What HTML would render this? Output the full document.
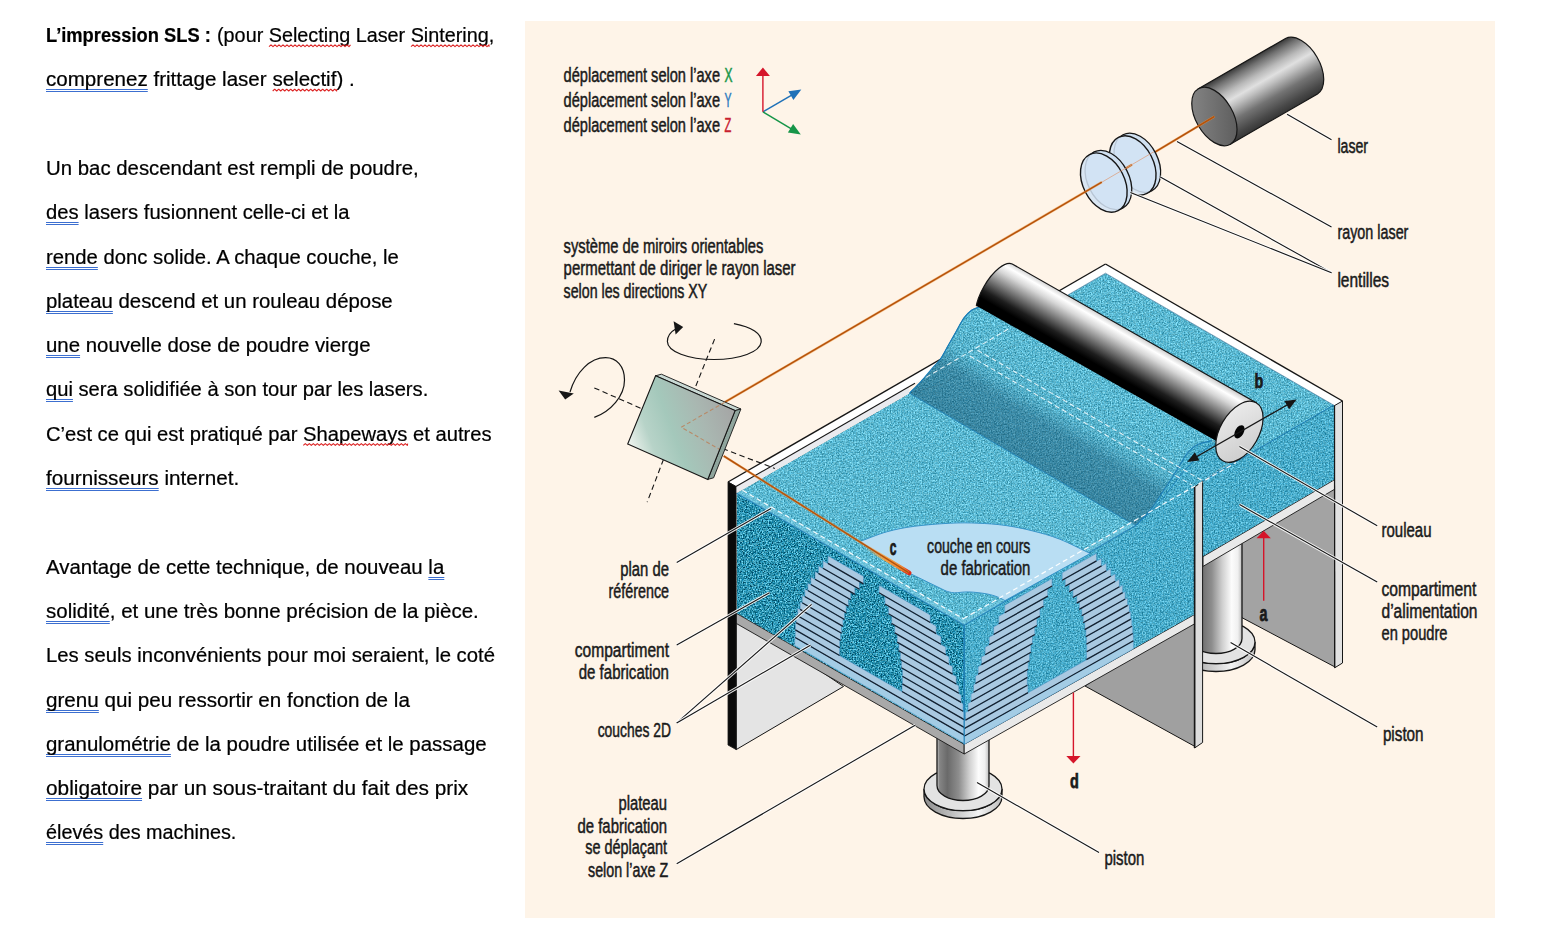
<!DOCTYPE html>
<html lang="fr"><head><meta charset="utf-8"><title>L'impression SLS</title>
<style>
html,body{margin:0;padding:0;background:#fff;}
body{width:1545px;height:925px;overflow:hidden;position:relative;font-family:"Liberation Sans",sans-serif;}
.t{position:absolute;left:46px;white-space:nowrap;font-size:19.6px;line-height:24px;color:#000;transform-origin:0 50%;-webkit-text-stroke:0.22px #000;}
.t b{font-weight:bold;display:inline-block;transform:scaleX(0.925);transform-origin:0 50%;margin-right:-12.5px;}
.g{text-decoration:underline double #3c6fd0;text-decoration-thickness:1px;text-underline-offset:3px;text-decoration-skip-ink:none;}
.s{}
svg{position:absolute;left:0;top:0;}
svg text{font-family:"Liberation Sans",sans-serif;}
</style></head><body>
<div class="t" id="L0" style="left:46.3px;top:23px;transform:scaleX(1.0100);"><b>L’impression SLS :</b> (pour <span class=s>Selecting</span> Laser <span class=s>Sintering</span>,</div>
<div class="t" id="L1" style="left:46.3px;top:67.3px;transform:scaleX(1.0498);"><span class=g>comprenez</span> frittage laser <span class=s>selectif</span>) .</div>
<div class="t" id="L3" style="left:46.3px;top:155.9px;transform:scaleX(1.0400);">Un bac descendant est rempli de poudre,</div>
<div class="t" id="L4" style="left:46.3px;top:200.2px;transform:scaleX(1.0318);"><span class=g>des</span> lasers fusionnent celle-ci et la</div>
<div class="t" id="L5" style="left:46.3px;top:244.5px;transform:scaleX(1.0344);"><span class=g>rende</span> donc solide. A chaque couche, le</div>
<div class="t" id="L6" style="left:46.3px;top:288.8px;transform:scaleX(1.0399);"><span class=g>plateau</span> descend et un rouleau dépose</div>
<div class="t" id="L7" style="left:46.3px;top:333.1px;transform:scaleX(1.0415);"><span class=g>une</span> nouvelle dose de poudre vierge</div>
<div class="t" id="L8" style="left:46.3px;top:377.4px;transform:scaleX(1.0293);"><span class=g>qui</span> sera solidifiée à son tour par les lasers.</div>
<div class="t" id="L9" style="left:46.3px;top:421.7px;transform:scaleX(1.0305);">C’est ce qui est pratiqué par <span class=s>Shapeways</span> et autres</div>
<div class="t" id="L10" style="left:46.3px;top:466px;transform:scaleX(1.0558);"><span class=g>fournisseurs</span> internet.</div>
<div class="t" id="L12" style="left:46.3px;top:554.6px;transform:scaleX(1.0425);">Avantage de cette technique, de nouveau <span class=g>la</span></div>
<div class="t" id="L13" style="left:46.3px;top:598.9px;transform:scaleX(1.0456);"><span class=g>solidité</span>, et une très bonne précision de la pièce.</div>
<div class="t" id="L14" style="left:46.3px;top:643.2px;transform:scaleX(1.0356);">Les seuls inconvénients pour moi seraient, le coté</div>
<div class="t" id="L15" style="left:46.3px;top:687.5px;transform:scaleX(1.0539);"><span class=g>grenu</span> qui peu ressortir en fonction de la</div>
<div class="t" id="L16" style="left:46.3px;top:731.8px;transform:scaleX(1.0425);"><span class=g>granulométrie</span> de la poudre utilisée et le passage</div>
<div class="t" id="L17" style="left:46.3px;top:776.1px;transform:scaleX(1.0620);"><span class=g>obligatoire</span> par un sous-traitant du fait des prix</div>
<div class="t" id="L18" style="left:46.3px;top:820.4px;transform:scaleX(1.0100);"><span class=g>élevés</span> des machines.</div>
<svg width="1545" height="925" viewBox="0 0 1545 925">
<defs>
<filter id="pw" x="0" y="0" width="100%" height="100%" filterUnits="objectBoundingBox" color-interpolation-filters="sRGB">
  <feTurbulence type="fractalNoise" baseFrequency="0.71 0.67" numOctaves="2" seed="11" result="t"/>
  <feColorMatrix in="t" type="matrix" values="1.5 0.9 0 0 -0.7  1.2 1.2 0 0 -0.7  1.0 1.4 0 0 -0.7  0 0 0 0 1" result="n"/>
  <feComposite in="SourceGraphic" in2="n" operator="arithmetic" k1="0" k2="1" k3="0.38" k4="-0.18" result="s"/>
  <feComposite in="s" in2="SourceGraphic" operator="in"/>
</filter>
<filter id="pwd" x="0" y="0" width="100%" height="100%" filterUnits="objectBoundingBox" color-interpolation-filters="sRGB">
  <feTurbulence type="fractalNoise" baseFrequency="0.69 0.73" numOctaves="2" seed="5" result="t"/>
  <feColorMatrix in="t" type="matrix" values="1.7 1.1 0 0 -0.9  1.4 1.4 0 0 -0.9  1.2 1.6 0 0 -0.9  0 0 0 0 1" result="n"/>
  <feComposite in="SourceGraphic" in2="n" operator="arithmetic" k1="0" k2="1" k3="0.6" k4="-0.31" result="s"/>
  <feComposite in="s" in2="SourceGraphic" operator="in"/>
</filter>
<linearGradient id="gRoll" gradientUnits="userSpaceOnUse" x1="1017" y1="256" x2="983" y2="315">
  <stop offset="0" stop-color="#4a4a4a"/><stop offset="0.05" stop-color="#7c7c7c"/><stop offset="0.13" stop-color="#d2d2d2"/><stop offset="0.21" stop-color="#ffffff"/>
  <stop offset="0.32" stop-color="#d6d6d6"/><stop offset="0.5" stop-color="#7a7a7a"/><stop offset="0.68" stop-color="#1e1e1e"/><stop offset="0.8" stop-color="#000"/><stop offset="1" stop-color="#000"/>
</linearGradient>
<linearGradient id="gRollFace" x1="0" y1="0" x2="1" y2="1">
  <stop offset="0" stop-color="#efefef"/><stop offset="1" stop-color="#c9c9c9"/>
</linearGradient>
<linearGradient id="gLaser" gradientUnits="userSpaceOnUse" x1="1198.4" y1="88.8" x2="1230.4" y2="144.2">
  <stop offset="0" stop-color="#3a3a3a"/><stop offset="0.1" stop-color="#707070"/><stop offset="0.27" stop-color="#b9b9b9"/>
  <stop offset="0.4" stop-color="#e0e0e0"/><stop offset="0.5" stop-color="#bfbfbf"/><stop offset="0.7" stop-color="#737373"/><stop offset="0.9" stop-color="#484848"/><stop offset="1" stop-color="#363636"/>
</linearGradient>
<linearGradient id="gLaserFace" x1="0" y1="0" x2="1" y2="1">
  <stop offset="0" stop-color="#8a8a8a"/><stop offset="1" stop-color="#575757"/>
</linearGradient>
<linearGradient id="gPist" x1="0" y1="0" x2="1" y2="0">
  <stop offset="0" stop-color="#c8c8c8"/><stop offset="0.05" stop-color="#858585"/><stop offset="0.2" stop-color="#6a6a6a"/>
  <stop offset="0.42" stop-color="#8e8e8e"/><stop offset="0.62" stop-color="#cfcfcf"/><stop offset="0.8" stop-color="#fcfcfc"/><stop offset="0.92" stop-color="#f0f0f0"/><stop offset="1" stop-color="#bdbdbd"/>
</linearGradient>
<linearGradient id="gFl" x1="0" y1="0" x2="1" y2="0">
  <stop offset="0" stop-color="#8d8d8d"/><stop offset="0.35" stop-color="#bdbdbd"/><stop offset="0.7" stop-color="#f4f4f4"/><stop offset="1" stop-color="#bdbdbd"/>
</linearGradient>
<linearGradient id="gMir" gradientUnits="userSpaceOnUse" x1="632" y1="446" x2="733" y2="408">
  <stop offset="0" stop-color="#e9f0ea"/><stop offset="0.18" stop-color="#b7d3c8"/><stop offset="0.4" stop-color="#a4c8bb"/>
  <stop offset="0.7" stop-color="#a9b7b1"/><stop offset="1" stop-color="#a5a5a5"/>
</linearGradient>
<linearGradient id="gWave" gradientUnits="userSpaceOnUse" x1="909.5" y1="393.3" x2="958" y2="312">
  <stop offset="0" stop-color="#0a3f5e" stop-opacity="0.42"/><stop offset="0.45" stop-color="#0a3f5e" stop-opacity="0.36"/>
  <stop offset="0.65" stop-color="#0c4566" stop-opacity="0.06"/><stop offset="1" stop-color="#0c4566" stop-opacity="0"/>
</linearGradient>
<linearGradient id="gSpot" gradientUnits="userSpaceOnUse" x1="866" y1="546.8" x2="909.2" y2="573">
  <stop offset="0" stop-color="#f6a94e" stop-opacity="0"/><stop offset="0.45" stop-color="#f6a23e" stop-opacity="0.95"/><stop offset="0.82" stop-color="#f07a28"/><stop offset="0.93" stop-color="#e23a1c"/><stop offset="1" stop-color="#de2c1a"/>
</linearGradient>
</defs>
<rect x="525" y="21" width="970" height="897" fill="#fef4e8"/>
<polygon points="736.2,614 843.5,686.5 736.2,749.6" fill="#e4e4e4" stroke="#161616" stroke-width="1" />
<polygon points="1236,543 1335,486 1335,667 1236,614.5" fill="#a3a3a3" stroke="#161616" stroke-width="1" />
<path d="M1177,642 L1177,649.8 A39,21.7 0 0 0 1255,649.8 L1255,642 A39,21.7 0 0 1 1177,642 Z" fill="url(#gFl)" stroke="#161616" stroke-width="1.3"/>
<ellipse cx="1216" cy="642" rx="39" ry="21.7" fill="#e3e3e3" stroke="#161616" stroke-width="1.3"/>
<path d="M1190,540 L1190,638.5 A26,15 0 0 0 1242,638.5 L1242,540 Z" fill="url(#gPist)" stroke="#161616" stroke-width="1.3"/>
<polygon points="1195,612 1195,746.5 1085,686" fill="#a0a0a0" stroke="#161616" stroke-width="1" />
<path d="M924,789 L924,796.8 A39,21.7 0 0 0 1002,796.8 L1002,789 A39,21.7 0 0 1 924,789 Z" fill="url(#gFl)" stroke="#161616" stroke-width="1.3"/>
<ellipse cx="963" cy="789" rx="39" ry="21.7" fill="#e3e3e3" stroke="#161616" stroke-width="1.3"/>
<path d="M937,730 L937,785.5 A26,15 0 0 0 989,785.5 L989,730 Z" fill="url(#gPist)" stroke="#161616" stroke-width="1.3"/>
<polygon points="736.2,613.2 964.2,744.3 964.2,754 736.2,623.4" fill="#a9a9a9" stroke="#161616" stroke-width="0.9" />
<polygon points="964.2,744.3 1195,614.2 1195,623.6 964.2,754" fill="#e9e9e9" stroke="#161616" stroke-width="0.9" />
<polygon points="1203,556.6 1334.7,479.6 1334.7,489.2 1203,566.4" fill="#e9e9e9" stroke="#161616" stroke-width="0.9" />
<g filter="url(#pwd)">
<polygon points="736.5,493 964.2,625 964.2,744.3 736.5,613.2" fill="#2e94b1" stroke="none" stroke-width="1" />
</g>
<g filter="url(#pw)">
<path d="M964.2,625 L1135.4,525.6 C1136.7,524.3 1140.2,521 1143,518 C1145.8,515 1149,511.9 1152.3,507.5 C1155.6,503.1 1159.2,497.1 1162.7,491.9 C1166.2,486.7 1170,481.1 1173,476.3 C1176,471.6 1178.2,467.5 1180.8,463.4 C1183.4,459.3 1185.8,454.8 1188.6,451.7 C1191.4,448.6 1193.8,446.4 1197.7,444.5 C1201.6,442.6 1209.6,441.2 1212,440.6 L1240,455 L1203,481 L1203,560 L1195,614.2 L964.2,744.3 Z" fill="#47a9c7"/>
<polygon points="1202.4,481.3 1334.5,404.6 1334.5,479.6 1202.4,556.8" fill="#47a9c7" stroke="none" stroke-width="1" />
</g>
<g filter="url(#pw)">
<path d="M736.5,493 L909.5,393.3 C911.4,391.3 917.2,385.8 921.1,381.5 C925,377.2 929.5,371.5 932.8,367.7 C936,363.9 938,362.6 940.6,358.9 C943.2,355.2 945.8,349.8 948.4,345.3 C951,340.8 953.5,336.2 956.1,331.7 C958.7,327.2 961.3,321.7 963.9,318.1 C966.5,314.5 969.1,312.2 971.7,310.3 C974.3,308.4 978.2,307.6 979.5,307 L1000,298 L1063,297.8 L1105.5,273.2 L1334.5,405.6 L1202.4,481.3 L1240,455 L1212,440.6 C1209.6,441.2 1201.6,442.6 1197.7,444.5 C1193.8,446.4 1191.4,448.6 1188.6,451.7 C1185.8,454.8 1183.4,459.3 1180.8,463.4 C1178.2,467.5 1176,471.6 1173,476.3 C1170,481.1 1166.2,486.7 1162.7,491.9 C1159.2,497.1 1155.6,503.1 1152.3,507.5 C1149,511.9 1145.8,515 1143,518 C1140.2,521 1136.7,524.3 1135.4,525.6 L964.2,625 Z" fill="#58b5ce"/>
</g>
<path d="M909.5,393.3 C911.4,391.3 917.2,385.8 921.1,381.5 C925,377.2 929.5,371.5 932.8,367.7 C936,363.9 938,362.6 940.6,358.9 C943.2,355.2 945.8,349.8 948.4,345.3 C951,340.8 953.5,336.2 956.1,331.7 C958.7,327.2 961.3,321.7 963.9,318.1 C966.5,314.5 969.1,312.2 971.7,310.3 C974.3,308.4 978.2,307.6 979.5,307 L1212,440.6 C1209.6,441.2 1201.6,442.6 1197.7,444.5 C1193.8,446.4 1191.4,448.6 1188.6,451.7 C1185.8,454.8 1183.4,459.3 1180.8,463.4 C1178.2,467.5 1176,471.6 1173,476.3 C1170,481.1 1166.2,486.7 1162.7,491.9 C1159.2,497.1 1155.6,503.1 1152.3,507.5 C1149,511.9 1145.8,515 1143,518 C1140.2,521 1136.7,524.3 1135.4,525.6 Z" fill="url(#gWave)"/>
<path d="M979.5,307 C978.2,307.6 974.3,308.4 971.7,310.3 C969.1,312.2 966.5,314.5 963.9,318.1 C961.3,321.7 958.7,327.2 956.1,331.7 C953.5,336.2 951,340.8 948.4,345.3 C945.8,349.8 943.2,355.2 940.6,358.9 C938,362.6 936,363.9 932.8,367.7 C929.5,371.5 925,377.2 921.1,381.5 C917.2,385.8 911.4,391.3 909.5,393.3" fill="none" stroke="#1b7fb8" stroke-width="1.1"/>
<path d="M1135.4,525.6 C1136.7,524.3 1140.2,521 1143,518 C1145.8,515 1149,511.9 1152.3,507.5 C1155.6,503.1 1159.2,497.1 1162.7,491.9 C1166.2,486.7 1170,481.1 1173,476.3 C1176,471.6 1178.2,467.5 1180.8,463.4 C1183.4,459.3 1185.8,454.8 1188.6,451.7 C1191.4,448.6 1193.8,446.4 1197.7,444.5 C1201.6,442.6 1209.6,441.2 1212,440.6" fill="none" stroke="#1b7fb8" stroke-width="1.1"/>
<path d="M1135.4,525.6 C1138.7,522.6 1149.5,513.1 1154.9,507.5 C1160.3,501.9 1163.6,497.3 1167.9,491.9 C1172.2,486.5 1176.9,479.8 1180.8,475 C1184.7,470.2 1188,467.1 1191.2,463.4 C1194.5,459.7 1196.6,456.2 1200.3,453 C1204,449.8 1211.1,445.4 1213.3,443.9" fill="none" stroke="#1b7fb8" stroke-width="0.9"/>
<line x1="909.5" y1="393.3" x2="1135.4" y2="525.6" stroke="#1b7fb8" stroke-width="1.0" opacity="0.8"/>
<line x1="736.5" y1="493" x2="964.2" y2="625" stroke="#1b7fb8" stroke-width="1.2" />
<line x1="964.2" y1="625" x2="1135.4" y2="525.6" stroke="#1b7fb8" stroke-width="1.2" />
<line x1="964.2" y1="625" x2="964.2" y2="744.3" stroke="#1b7fb8" stroke-width="1.0" />
<line x1="1202.4" y1="481.3" x2="1334.5" y2="404.6" stroke="#1b7fb8" stroke-width="1.0" />
<polygon points="736.5,493 964.2,625 964.2,618.5 742,490.2" fill="#8fd3ea" stroke="none" stroke-width="0" opacity="0.35"/>
<polygon points="964.2,625 1135.4,525.6 1131,521.5 964.2,618.5" fill="#8fd3ea" stroke="none" stroke-width="0" opacity="0.3"/>
<path d="M860,541.5 C864.5,539.9 878.1,534.2 887.2,531.7 C896.3,529.2 903.8,527.7 914.4,526.3 C925,524.9 940,523.7 950.6,523.2 C961.2,522.7 968.7,522.8 977.8,523.2 C986.9,523.6 995.9,524.1 1005,525.4 C1014.1,526.7 1023.2,528.5 1032.2,530.8 C1041.2,533.1 1049.6,535.2 1059.3,539 C1069,542.8 1085,551.1 1090.2,553.5 L1005,600.6 C1003.8,600 1000.7,598.1 997.7,597 C994.7,595.9 991.7,594.8 986.9,593.9 C982.1,593 974.2,592.1 968.7,591.9 C963.2,591.7 958,592.9 954.2,592.8 C950.4,592.6 947.4,591.3 946,591 L909,573 Z" fill="#b9def3" stroke="#2f8fc6" stroke-width="0.9"/>
<polygon points="828,555.8 863.5,576.3 863.5,584.1 828,563.6" fill="#a9c9e1" stroke="#3a88bd" stroke-width="0.5" />
<polygon points="879,585.3 930.3,614.9 930.3,622.7 879,593" fill="#a9c9e1" stroke="#3a88bd" stroke-width="0.5" />
<polygon points="823,560.7 859.5,581.8 859.5,589.5 823,568.5" fill="#a9c9e1" stroke="#3a88bd" stroke-width="0.5" />
<polygon points="884.9,596.5 936.2,626.1 936.2,633.8 884.9,604.2" fill="#a9c9e1" stroke="#3a88bd" stroke-width="0.5" />
<polygon points="818.4,565.8 854.9,586.9 854.9,594.6 818.4,573.6" fill="#a9c9e1" stroke="#3a88bd" stroke-width="0.5" />
<polygon points="888.4,606.3 941,636.6 941,644.4 888.4,614" fill="#a9c9e1" stroke="#3a88bd" stroke-width="0.5" />
<polygon points="815,571.6 850.8,592.3 850.8,600 815,579.4" fill="#a9c9e1" stroke="#3a88bd" stroke-width="0.5" />
<polygon points="891.7,615.9 945.9,647.2 945.9,654.9 891.7,623.7" fill="#a9c9e1" stroke="#3a88bd" stroke-width="0.5" />
<polygon points="810.8,576.9 848.5,598.7 848.5,606.5 810.8,584.7" fill="#a9c9e1" stroke="#3a88bd" stroke-width="0.5" />
<polygon points="894.7,625.4 949,656.8 949,664.5 894.7,633.1" fill="#a9c9e1" stroke="#3a88bd" stroke-width="0.5" />
<polygon points="807.8,582.9 846.2,605.1 846.2,612.9 807.8,590.7" fill="#a9c9e1" stroke="#3a88bd" stroke-width="0.5" />
<polygon points="897.1,634.6 952.6,666.6 952.6,674.3 897.1,642.3" fill="#a9c9e1" stroke="#3a88bd" stroke-width="0.5" />
<polygon points="804.8,589 844.5,611.9 844.5,619.7 804.8,596.7" fill="#a9c9e1" stroke="#3a88bd" stroke-width="0.5" />
<polygon points="898.8,643.3 956.3,676.5 956.3,684.2 898.8,651" fill="#a9c9e1" stroke="#3a88bd" stroke-width="0.5" />
<polygon points="802.2,595.3 843,618.8 843,626.6 802.2,603" fill="#a9c9e1" stroke="#3a88bd" stroke-width="0.5" />
<polygon points="900.3,651.9 958.9,685.8 958.9,693.5 900.3,659.7" fill="#a9c9e1" stroke="#3a88bd" stroke-width="0.5" />
<polygon points="800.1,601.8 841.6,625.7 841.6,633.5 800.1,609.6" fill="#a9c9e1" stroke="#3a88bd" stroke-width="0.5" />
<polygon points="901.4,660.3 961.2,694.9 961.2,702.6 901.4,668" fill="#a9c9e1" stroke="#3a88bd" stroke-width="0.5" />
<polygon points="797.6,608.1 840.7,633 840.7,640.7 797.6,615.9" fill="#a9c9e1" stroke="#3a88bd" stroke-width="0.5" />
<polygon points="902.4,668.6 963.1,703.7 963.1,711.5 902.4,676.4" fill="#a9c9e1" stroke="#3a88bd" stroke-width="0.5" />
<polygon points="796.1,615 839.8,640.2 839.8,648 796.1,622.8" fill="#a9c9e1" stroke="#3a88bd" stroke-width="0.5" />
<polygon points="902.3,676.3 964.2,712.1 964.2,719.8 902.3,684.1" fill="#a9c9e1" stroke="#3a88bd" stroke-width="0.5" />
<polygon points="795.4,622.4 839.6,647.9 839.6,655.7 795.4,630.1" fill="#a9c9e1" stroke="#3a88bd" stroke-width="0.5" />
<polygon points="902,683.9 964.2,719.8 964.2,727.6 902,691.7" fill="#a9c9e1" stroke="#3a88bd" stroke-width="0.5" />
<polygon points="795.2,630 964.2,727.6 964.2,735.3 795.2,637.7" fill="#a9c9e1" stroke="#3a88bd" stroke-width="0.5" />
<polygon points="794.9,637.5 964.2,735.3 964.2,743.1 794.9,645.3" fill="#a9c9e1" stroke="#3a88bd" stroke-width="0.5" />
<line x1="828" y1="563.4" x2="863.5" y2="583.9" stroke="#15202e" stroke-width="1.25" />
<line x1="879" y1="592.8" x2="930.3" y2="622.5" stroke="#15202e" stroke-width="1.25" />
<line x1="823" y1="568.3" x2="859.5" y2="589.3" stroke="#15202e" stroke-width="1.25" />
<line x1="884.9" y1="604" x2="936.2" y2="633.6" stroke="#15202e" stroke-width="1.25" />
<line x1="818.4" y1="573.4" x2="854.9" y2="594.4" stroke="#15202e" stroke-width="1.25" />
<line x1="888.4" y1="613.8" x2="941" y2="644.2" stroke="#15202e" stroke-width="1.25" />
<line x1="815" y1="579.2" x2="850.8" y2="599.8" stroke="#15202e" stroke-width="1.25" />
<line x1="891.7" y1="623.5" x2="945.9" y2="654.7" stroke="#15202e" stroke-width="1.25" />
<line x1="810.8" y1="584.5" x2="848.5" y2="606.3" stroke="#15202e" stroke-width="1.25" />
<line x1="894.7" y1="632.9" x2="949" y2="664.3" stroke="#15202e" stroke-width="1.25" />
<line x1="807.8" y1="590.5" x2="846.2" y2="612.7" stroke="#15202e" stroke-width="1.25" />
<line x1="897.1" y1="642.1" x2="952.6" y2="674.1" stroke="#15202e" stroke-width="1.25" />
<line x1="804.8" y1="596.5" x2="844.5" y2="619.5" stroke="#15202e" stroke-width="1.25" />
<line x1="898.8" y1="650.8" x2="956.3" y2="684" stroke="#15202e" stroke-width="1.25" />
<line x1="802.2" y1="602.8" x2="843" y2="626.4" stroke="#15202e" stroke-width="1.25" />
<line x1="900.3" y1="659.5" x2="958.9" y2="693.3" stroke="#15202e" stroke-width="1.25" />
<line x1="800.1" y1="609.4" x2="841.6" y2="633.3" stroke="#15202e" stroke-width="1.25" />
<line x1="901.4" y1="667.8" x2="961.2" y2="702.4" stroke="#15202e" stroke-width="1.25" />
<line x1="797.6" y1="615.7" x2="840.7" y2="640.5" stroke="#15202e" stroke-width="1.25" />
<line x1="902.4" y1="676.2" x2="963.1" y2="711.3" stroke="#15202e" stroke-width="1.25" />
<line x1="796.1" y1="622.6" x2="839.8" y2="647.8" stroke="#15202e" stroke-width="1.25" />
<line x1="902.3" y1="683.9" x2="964.2" y2="719.6" stroke="#15202e" stroke-width="1.25" />
<line x1="795.4" y1="629.9" x2="839.6" y2="655.5" stroke="#15202e" stroke-width="1.25" />
<line x1="902" y1="691.5" x2="964.2" y2="727.4" stroke="#15202e" stroke-width="1.25" />
<line x1="795.2" y1="637.5" x2="964.2" y2="735.1" stroke="#15202e" stroke-width="1.25" />
<polygon points="1004.7,605.2 1052.1,578.4 1052.1,586.2 1004.7,612.9" fill="#a9c9e1" stroke="#3a88bd" stroke-width="0.5" />
<polygon points="1062.1,572.8 1096.5,553.3 1096.5,561.1 1062.1,580.5" fill="#a9c9e1" stroke="#3a88bd" stroke-width="0.5" />
<polygon points="998.7,616.3 1047.8,588.6 1047.8,596.3 998.7,624" fill="#a9c9e1" stroke="#3a88bd" stroke-width="0.5" />
<polygon points="1065.2,578.8 1101.5,558.3 1101.5,566.1 1065.2,586.5" fill="#a9c9e1" stroke="#3a88bd" stroke-width="0.5" />
<polygon points="993.6,626.9 1043.6,598.7 1043.6,606.4 993.6,634.7" fill="#a9c9e1" stroke="#3a88bd" stroke-width="0.5" />
<polygon points="1069.1,584.3 1106.4,563.2 1106.4,571 1069.1,592" fill="#a9c9e1" stroke="#3a88bd" stroke-width="0.5" />
<polygon points="989.1,637.2 1040,608.5 1040,616.3 989.1,645" fill="#a9c9e1" stroke="#3a88bd" stroke-width="0.5" />
<polygon points="1072.9,589.9 1110.9,568.5 1110.9,576.2 1072.9,597.7" fill="#a9c9e1" stroke="#3a88bd" stroke-width="0.5" />
<polygon points="985.1,647.2 1037,617.9 1037,625.7 985.1,655" fill="#a9c9e1" stroke="#3a88bd" stroke-width="0.5" />
<polygon points="1076.7,595.5 1115.3,573.8 1115.3,581.5 1076.7,603.3" fill="#a9c9e1" stroke="#3a88bd" stroke-width="0.5" />
<polygon points="981.4,657.1 1034.8,626.9 1034.8,634.7 981.4,664.8" fill="#a9c9e1" stroke="#3a88bd" stroke-width="0.5" />
<polygon points="1079.2,601.9 1119.4,579.2 1119.4,586.9 1079.2,609.6" fill="#a9c9e1" stroke="#3a88bd" stroke-width="0.5" />
<polygon points="978.1,666.7 1032.5,636 1032.5,643.7 978.1,674.4" fill="#a9c9e1" stroke="#3a88bd" stroke-width="0.5" />
<polygon points="1081.7,608.2 1122.7,585.1 1122.7,592.8 1081.7,616" fill="#a9c9e1" stroke="#3a88bd" stroke-width="0.5" />
<polygon points="975.4,676 1031,644.6 1031,652.4 975.4,683.7" fill="#a9c9e1" stroke="#3a88bd" stroke-width="0.5" />
<polygon points="1083.2,615.1 1125.2,591.4 1125.2,599.2 1083.2,622.9" fill="#a9c9e1" stroke="#3a88bd" stroke-width="0.5" />
<polygon points="973.5,684.8 1029.6,653.1 1029.6,660.9 973.5,692.5" fill="#a9c9e1" stroke="#3a88bd" stroke-width="0.5" />
<polygon points="1084.7,622 1127.6,597.8 1127.6,605.6 1084.7,629.8" fill="#a9c9e1" stroke="#3a88bd" stroke-width="0.5" />
<polygon points="971,693.9 1028.2,661.7 1028.2,669.4 971,701.7" fill="#a9c9e1" stroke="#3a88bd" stroke-width="0.5" />
<polygon points="1085.8,629.2 1129.4,604.6 1129.4,612.3 1085.8,636.9" fill="#a9c9e1" stroke="#3a88bd" stroke-width="0.5" />
<polygon points="968,703.4 1027.4,669.9 1027.4,677.6 968,711.2" fill="#a9c9e1" stroke="#3a88bd" stroke-width="0.5" />
<polygon points="1086.3,636.7 1130.8,611.5 1130.8,619.3 1086.3,644.4" fill="#a9c9e1" stroke="#3a88bd" stroke-width="0.5" />
<polygon points="965.5,712.6 1027.3,677.7 1027.3,685.4 965.5,720.3" fill="#a9c9e1" stroke="#3a88bd" stroke-width="0.5" />
<polygon points="1086.7,644.2 1131.9,618.7 1131.9,626.4 1086.7,651.9" fill="#a9c9e1" stroke="#3a88bd" stroke-width="0.5" />
<polygon points="964.2,721 1028,685.1 1028,692.8 964.2,728.8" fill="#a9c9e1" stroke="#3a88bd" stroke-width="0.5" />
<polygon points="1086.4,652.1 1132.8,625.9 1132.8,633.7 1086.4,659.8" fill="#a9c9e1" stroke="#3a88bd" stroke-width="0.5" />
<polygon points="964.2,728.8 1133.4,633.3 1133.4,641.1 964.2,736.5" fill="#a9c9e1" stroke="#3a88bd" stroke-width="0.5" />
<polygon points="964.2,736.5 1133.4,641.1 1133.4,648.8 964.2,744.3" fill="#a9c9e1" stroke="#3a88bd" stroke-width="0.5" />
<line x1="1004.7" y1="612.7" x2="1052.1" y2="586" stroke="#15202e" stroke-width="1.25" />
<line x1="1062.1" y1="580.3" x2="1096.5" y2="560.9" stroke="#15202e" stroke-width="1.25" />
<line x1="998.7" y1="623.8" x2="1047.8" y2="596.1" stroke="#15202e" stroke-width="1.25" />
<line x1="1065.2" y1="586.3" x2="1101.5" y2="565.9" stroke="#15202e" stroke-width="1.25" />
<line x1="993.6" y1="634.5" x2="1043.6" y2="606.2" stroke="#15202e" stroke-width="1.25" />
<line x1="1069.1" y1="591.8" x2="1106.4" y2="570.8" stroke="#15202e" stroke-width="1.25" />
<line x1="989.1" y1="644.8" x2="1040" y2="616.1" stroke="#15202e" stroke-width="1.25" />
<line x1="1072.9" y1="597.5" x2="1110.9" y2="576" stroke="#15202e" stroke-width="1.25" />
<line x1="985.1" y1="654.8" x2="1037" y2="625.5" stroke="#15202e" stroke-width="1.25" />
<line x1="1076.7" y1="603.1" x2="1115.3" y2="581.3" stroke="#15202e" stroke-width="1.25" />
<line x1="981.4" y1="664.6" x2="1034.8" y2="634.5" stroke="#15202e" stroke-width="1.25" />
<line x1="1079.2" y1="609.4" x2="1119.4" y2="586.7" stroke="#15202e" stroke-width="1.25" />
<line x1="978.1" y1="674.2" x2="1032.5" y2="643.5" stroke="#15202e" stroke-width="1.25" />
<line x1="1081.7" y1="615.8" x2="1122.7" y2="592.6" stroke="#15202e" stroke-width="1.25" />
<line x1="975.4" y1="683.5" x2="1031" y2="652.2" stroke="#15202e" stroke-width="1.25" />
<line x1="1083.2" y1="622.7" x2="1125.2" y2="599" stroke="#15202e" stroke-width="1.25" />
<line x1="973.5" y1="692.3" x2="1029.6" y2="660.7" stroke="#15202e" stroke-width="1.25" />
<line x1="1084.7" y1="629.6" x2="1127.6" y2="605.4" stroke="#15202e" stroke-width="1.25" />
<line x1="971" y1="701.5" x2="1028.2" y2="669.2" stroke="#15202e" stroke-width="1.25" />
<line x1="1085.8" y1="636.7" x2="1129.4" y2="612.1" stroke="#15202e" stroke-width="1.25" />
<line x1="968" y1="711" x2="1027.4" y2="677.4" stroke="#15202e" stroke-width="1.25" />
<line x1="1086.3" y1="644.2" x2="1130.8" y2="619.1" stroke="#15202e" stroke-width="1.25" />
<line x1="965.5" y1="720.1" x2="1027.3" y2="685.2" stroke="#15202e" stroke-width="1.25" />
<line x1="1086.7" y1="651.7" x2="1131.9" y2="626.2" stroke="#15202e" stroke-width="1.25" />
<line x1="964.2" y1="728.6" x2="1028" y2="692.6" stroke="#15202e" stroke-width="1.25" />
<line x1="1086.4" y1="659.6" x2="1132.8" y2="633.5" stroke="#15202e" stroke-width="1.25" />
<line x1="964.2" y1="736.3" x2="1133.4" y2="640.9" stroke="#15202e" stroke-width="1.25" />
<polygon points="794.7,638.6 964.2,736.5 964.2,743.7 794.7,645.8" fill="#9fcdea" stroke="none" stroke-width="0" opacity="0.55"/>
<polygon points="964.2,737 1133.4,641.5 1133.4,648.8 964.2,744.3" fill="#9fcdea" stroke="none" stroke-width="0" opacity="0.55"/>
<line x1="964.2" y1="625" x2="964.2" y2="744.3" stroke="#1b7fb8" stroke-width="1.0" />
<polygon points="728,482 1105.5,264 1105.5,273.2 736,486.6" fill="#ffffff" stroke="none" stroke-width="1" />
<polygon points="1105.5,264 1342.5,401 1334.5,405.6 1105.5,273.2" fill="#ffffff" stroke="none" stroke-width="1" />
<polygon points="736,486.6 909,386.7 909.5,393.3 736.5,493" fill="#e9eaee" stroke="none" stroke-width="1" />
<line x1="728" y1="482" x2="1105.5" y2="264" stroke="#161616" stroke-width="1.4" />
<line x1="1105.5" y1="264" x2="1342.5" y2="401" stroke="#161616" stroke-width="1.4" />
<line x1="736" y1="486.6" x2="915" y2="383.3" stroke="#161616" stroke-width="1.1" />
<line x1="1068" y1="294.9" x2="1105.5" y2="273.2" stroke="#2a6f9a" stroke-width="0.6" />
<line x1="1105.5" y1="273.2" x2="1334.5" y2="405.6" stroke="#2a6f9a" stroke-width="0.6" />
<line x1="728" y1="482" x2="736" y2="486.6" stroke="#161616" stroke-width="1.0" />
<g filter="url(#pw)"><path d="M979.5,307 C978.2,307.6 974.3,308.4 971.7,310.3 C969.1,312.2 966.5,314.5 963.9,318.1 C961.3,321.7 958.7,327.2 956.1,331.7 C953.5,336.2 951,340.8 948.4,345.3 C945.8,349.8 943.2,355.2 940.6,358.9 C938,362.6 936,363.9 932.8,367.7 C929.5,371.5 925,377.2 921.1,381.5 C917.2,385.8 911.4,391.3 909.5,393.3 L940,385 L1030,337 L1000,300 Z" fill="#58b5ce"/></g>
<path d="M979.5,307 C978.2,307.6 974.3,308.4 971.7,310.3 C969.1,312.2 966.5,314.5 963.9,318.1 C961.3,321.7 958.7,327.2 956.1,331.7 C953.5,336.2 951,340.8 948.4,345.3 C945.8,349.8 943.2,355.2 940.6,358.9 C938,362.6 936,363.9 932.8,367.7 C929.5,371.5 925,377.2 921.1,381.5 C917.2,385.8 911.4,391.3 909.5,393.3 L940,385 L1030,337 L1000,300 Z" fill="url(#gWave)"/>
<path d="M979.5,307 C978.2,307.6 974.3,308.4 971.7,310.3 C969.1,312.2 966.5,314.5 963.9,318.1 C961.3,321.7 958.7,327.2 956.1,331.7 C953.5,336.2 951,340.8 948.4,345.3 C945.8,349.8 943.2,355.2 940.6,358.9 C938,362.6 936,363.9 932.8,367.7 C929.5,371.5 925,377.2 921.1,381.5 C917.2,385.8 911.4,391.3 909.5,393.3" fill="none" stroke="#1b7fb8" stroke-width="1.1"/>
<polygon points="728,482 736,486.6 736.2,749.6 728,745" fill="#0a0a0a" stroke="#161616" stroke-width="0.8" />
<polygon points="1342.5,401 1342.5,663 1334.7,667.8 1334.5,405.6" fill="#e2e2e2" stroke="#161616" stroke-width="1" />
<line x1="1334.5" y1="405.6" x2="1334.7" y2="667.8" stroke="#161616" stroke-width="1.2" />
<polygon points="1194.6,487 1202.6,481.3 1202.6,742.5 1194.6,748" fill="#dddddd" stroke="#161616" stroke-width="1" />
<line x1="1194.6" y1="487" x2="1194.6" y2="748" stroke="#161616" stroke-width="1.6" />
<line x1="742.5" y1="490.3" x2="963.3" y2="618.7" stroke="#ffffff" stroke-width="1.2" stroke-dasharray="5 3.2" fill="none" opacity="0.95"/>
<line x1="963.3" y1="618.7" x2="1236" y2="462.5" stroke="#ffffff" stroke-width="1.2" stroke-dasharray="5 3.2" fill="none" opacity="0.95"/>
<line x1="926" y1="377.4" x2="1008.7" y2="328.8" stroke="#ffffff" stroke-width="1.05" stroke-dasharray="5 3.2" fill="none" opacity="0.85"/>
<line x1="977.5" y1="350.2" x2="1201.6" y2="480.2" stroke="#ffffff" stroke-width="1.05" stroke-dasharray="5 3.2" fill="none" opacity="0.85"/>
<line x1="969.8" y1="356" x2="1192.5" y2="485.4" stroke="#ffffff" stroke-width="1.05" stroke-dasharray="5 3.2" fill="none" opacity="0.85"/>
<clipPath id="cRoll"><polygon points="940,230 1300,230 1300,470 1215.4,440.5 979,307.2 940,290"/></clipPath>
<g clip-path="url(#cRoll)"><path d="M1012.2,264 L1256.2,402.8 L1222.7,460.8 L978.8,322 A13.9,33.5 30 0 1 1012.2,264 Z" fill="url(#gRoll)" stroke="#161616" stroke-width="1.2"/></g>
<ellipse cx="1239.4" cy="431.8" rx="19.3" ry="33.5" transform="rotate(30 1239.4 431.8)" fill="url(#gRollFace)" stroke="#161616" stroke-width="1.2"/>
<ellipse cx="1239.4" cy="431.8" rx="4.3" ry="7.2" transform="rotate(30 1239.4 431.8)" fill="#050505"/>
<path d="M1198.4,88.8 L1285.5,38.5 A18.5,32 -30 0 1 1317.5,93.9 L1230.4,144.2 Z" fill="url(#gLaser)" stroke="#161616" stroke-width="1.2"/>
<ellipse cx="1214.4" cy="116.5" rx="18.5" ry="32" transform="rotate(-30 1214.4 116.5)" fill="url(#gLaserFace)" stroke="#161616" stroke-width="1.2"/>
<line x1="1214.4" y1="116.5" x2="1132.7" y2="165.4" stroke="#eea050" stroke-width="2.6" opacity="0.6" stroke-linecap="butt"/><line x1="1214.4" y1="116.5" x2="1132.7" y2="165.4" stroke="#b6520a" stroke-width="1.5" opacity="1"/>
<ellipse cx="1137.3" cy="162.8" rx="20.7" ry="31.5" transform="rotate(-27 1137.3 162.8)" fill="#cfe0f1" stroke="#161616" stroke-width="1.3"/>
<ellipse cx="1132.7" cy="165.4" rx="20.7" ry="31.5" transform="rotate(-27 1132.7 165.4)" fill="#d3e3f4" stroke="#161616" stroke-width="1.4" fill-opacity="0.86"/>
<line x1="1132" y1="164.6" x2="1124" y2="169.3" stroke="#eea050" stroke-width="2.6" opacity="0.6" stroke-linecap="butt"/><line x1="1132" y1="164.6" x2="1124" y2="169.3" stroke="#b6520a" stroke-width="1.5" opacity="1"/>
<ellipse cx="1108.4" cy="180" rx="20.7" ry="31.5" transform="rotate(-27 1108.4 180)" fill="#cfe0f1" stroke="#161616" stroke-width="1.3"/>
<ellipse cx="1103.8" cy="182.6" rx="20.7" ry="31.5" transform="rotate(-27 1103.8 182.6)" fill="#d3e3f4" stroke="#161616" stroke-width="1.4" fill-opacity="0.86"/>
<line x1="1101.8" y1="182.2" x2="724.8" y2="402.2" stroke="#eea050" stroke-width="2.6" opacity="0.6" stroke-linecap="butt"/><line x1="1101.8" y1="182.2" x2="724.8" y2="402.2" stroke="#b6520a" stroke-width="1.5" opacity="1"/>
<line x1="1154" y1="151.7" x2="1102" y2="182.1" stroke="#dda282" stroke-width="1.0" opacity="0.8"/>
<line x1="714.6" y1="339.1" x2="694.2" y2="390.1" stroke="#161616" stroke-width="1.1" stroke-dasharray="5.5 3.5" fill="none"/>
<line x1="663.5" y1="459.4" x2="647.2" y2="502.1" stroke="#161616" stroke-width="1.1" stroke-dasharray="5.5 3.5" fill="none"/>
<line x1="594.3" y1="387.9" x2="640.8" y2="408.3" stroke="#161616" stroke-width="1.1" stroke-dasharray="5.5 3.5" fill="none"/>
<line x1="722.6" y1="448.5" x2="774.8" y2="468.5" stroke="#161616" stroke-width="1.1" stroke-dasharray="5.5 3.5" fill="none"/>
<polygon points="655.6,375.8 661.4,374.2 740.9,409 735.1,410.6" fill="#c9d9d4" stroke="#161616" stroke-width="0.9" />
<polygon points="735.1,410.6 740.9,409 713.6,477.8 707.8,479.4" fill="#8fa59d" stroke="#161616" stroke-width="0.9" />
<polygon points="655.6,375.8 735.1,410.6 707.8,479.4 627.7,444" fill="url(#gMir)" stroke="#161616" stroke-width="1.1" />
<polyline points="724.8,402.2 681.2,427.2 719.2,449.2" fill="none" stroke="#b88a68" stroke-width="1.1" stroke-dasharray="4 2.6"/>
<line x1="866" y1="546.8" x2="909.2" y2="573" stroke="url(#gSpot)" stroke-width="4.6" stroke-linecap="round"/>
<line x1="723.7" y1="456" x2="908.6" y2="572.7" stroke="#eea050" stroke-width="2.6" opacity="0.6" stroke-linecap="butt"/><line x1="723.7" y1="456" x2="908.6" y2="572.7" stroke="#b6520a" stroke-width="1.5" opacity="1"/>
<path d="M733.9,323.6 C752,327 762,334 761.2,342 C760,352 740,359.5 714,359.5 C688,359.5 667.4,351.5 667.4,341.5 C667.4,336 671,331.5 676.5,328.5" fill="none" stroke="#161616" stroke-width="1.2"/>
<polygon points="673.6,321.2 683.2,327 675.6,334.6" fill="#161616" stroke="none" stroke-width="1" />
<path d="M594.3,417.4 C611,411 624.5,396 624.5,380 C624.5,366 616.5,357.7 605.6,357.7 C590,357.7 576,372 570,392" fill="none" stroke="#161616" stroke-width="1.2"/>
<polygon points="558.6,390.6 573.8,393.4 565.2,399.4" fill="#161616" stroke="none" stroke-width="1" />
<line x1="762.9" y1="111.8" x2="793" y2="94.4" stroke="#1f71b8" stroke-width="1.5" />
<polygon points="801.3,89.6 793.4,99.9 788.4,91.3" fill="#1f71b8" stroke="none" stroke-width="1" />
<line x1="762.9" y1="111.8" x2="792.6" y2="129.6" stroke="#169548" stroke-width="1.5" />
<polygon points="800.8,134.5 787.9,132.6 793.1,124" fill="#169548" stroke="none" stroke-width="1" />
<line x1="762.9" y1="111.8" x2="762.9" y2="74.4" stroke="#d5152a" stroke-width="1.4" />
<polygon points="762.9,67.6 769.9,76.1 755.9,76.1" fill="#d5152a" stroke="none" stroke-width="1" />
<line x1="1263.7" y1="600.8" x2="1263.7" y2="536.8" stroke="#d5152a" stroke-width="1.4" />
<polygon points="1263.7,530.7 1270.8,538.3 1256.6,538.3" fill="#d5152a" stroke="none" stroke-width="1" />
<line x1="1073.4" y1="692.6" x2="1073.4" y2="757.5" stroke="#d5152a" stroke-width="1.4" />
<polygon points="1073.4,763.6 1066.3,756 1080.5,756" fill="#d5152a" stroke="none" stroke-width="1" />
<line x1="1195.2" y1="457.5" x2="1288.7" y2="404" stroke="#161616" stroke-width="1.4" />
<polygon points="1296.7,399.4 1289.1,409.2 1284.4,401" fill="#161616" stroke="none" stroke-width="1" />
<polygon points="1187.2,462.1 1199.5,460.5 1194.8,452.3" fill="#161616" stroke="none" stroke-width="1" />
<line x1="1287.1" y1="114.3" x2="1331.5" y2="139.8" stroke="#ffffff" stroke-width="3.0" opacity="0.9"/><line x1="1287.1" y1="114.3" x2="1331.5" y2="139.8" stroke="#161616" stroke-width="1.1" />
<line x1="1177" y1="141.5" x2="1331.5" y2="227" stroke="#ffffff" stroke-width="3.0" opacity="0.9"/><line x1="1177" y1="141.5" x2="1331.5" y2="227" stroke="#161616" stroke-width="1.1" />
<line x1="1159.9" y1="176.7" x2="1331.5" y2="272.7" stroke="#ffffff" stroke-width="3.0" opacity="0.9"/><line x1="1159.9" y1="176.7" x2="1331.5" y2="272.7" stroke="#161616" stroke-width="1.1" />
<line x1="1130.4" y1="192.6" x2="1331.5" y2="272.7" stroke="#ffffff" stroke-width="3.0" opacity="0.9"/><line x1="1130.4" y1="192.6" x2="1331.5" y2="272.7" stroke="#161616" stroke-width="1.1" />
<line x1="1239.4" y1="446.5" x2="1377.2" y2="525.8" stroke="#ffffff" stroke-width="3.0" opacity="0.9"/><line x1="1239.4" y1="446.5" x2="1377.2" y2="525.8" stroke="#161616" stroke-width="1.1" />
<line x1="1239.6" y1="504.6" x2="1377.2" y2="582" stroke="#ffffff" stroke-width="3.0" opacity="0.9"/><line x1="1239.6" y1="504.6" x2="1377.2" y2="582" stroke="#161616" stroke-width="1.1" />
<line x1="1230.6" y1="642.6" x2="1377.2" y2="727" stroke="#ffffff" stroke-width="3.0" opacity="0.9"/><line x1="1230.6" y1="642.6" x2="1377.2" y2="727" stroke="#161616" stroke-width="1.1" />
<line x1="977" y1="782.6" x2="1099" y2="852.4" stroke="#ffffff" stroke-width="3.0" opacity="0.9"/><line x1="977" y1="782.6" x2="1099" y2="852.4" stroke="#161616" stroke-width="1.1" />
<line x1="771.1" y1="508.4" x2="676.7" y2="562.6" stroke="#ffffff" stroke-width="3.0" opacity="0.9"/><line x1="771.1" y1="508.4" x2="676.7" y2="562.6" stroke="#161616" stroke-width="1.1" />
<line x1="769.5" y1="592.7" x2="676.7" y2="645" stroke="#ffffff" stroke-width="3.0" opacity="0.9"/><line x1="769.5" y1="592.7" x2="676.7" y2="645" stroke="#161616" stroke-width="1.1" />
<line x1="811.6" y1="604.3" x2="676.7" y2="722.9" stroke="#ffffff" stroke-width="3.0" opacity="0.9"/><line x1="811.6" y1="604.3" x2="676.7" y2="722.9" stroke="#161616" stroke-width="1.1" />
<line x1="810.4" y1="645.2" x2="676.7" y2="722.9" stroke="#ffffff" stroke-width="3.0" opacity="0.9"/><line x1="810.4" y1="645.2" x2="676.7" y2="722.9" stroke="#161616" stroke-width="1.1" />
<line x1="915.5" y1="725" x2="676.7" y2="863.7" stroke="#ffffff" stroke-width="3.0" opacity="0.9"/><line x1="915.5" y1="725" x2="676.7" y2="863.7" stroke="#161616" stroke-width="1.1" />
<g>
<text x="563.6" y="81.6" font-size="19.4" textLength="156.4" lengthAdjust="spacingAndGlyphs" fill="#1a1a1a" stroke="#1a1a1a" stroke-width="0.5">déplacement selon l’axe</text>
<text x="724.6" y="81.6" font-size="19.4" textLength="8" lengthAdjust="spacingAndGlyphs" fill="#1a9648" stroke="#1a9648" stroke-width="0.5">X</text>
<text x="563.6" y="106.6" font-size="19.4" textLength="156.4" lengthAdjust="spacingAndGlyphs" fill="#1a1a1a" stroke="#1a1a1a" stroke-width="0.5">déplacement selon l’axe</text>
<text x="724.6" y="106.6" font-size="19.4" textLength="7" lengthAdjust="spacingAndGlyphs" fill="#2e7bbf" stroke="#2e7bbf" stroke-width="0.5">Y</text>
<text x="563.6" y="131.9" font-size="19.4" textLength="156.4" lengthAdjust="spacingAndGlyphs" fill="#1a1a1a" stroke="#1a1a1a" stroke-width="0.5">déplacement selon l’axe</text>
<text x="724.6" y="131.9" font-size="19.4" textLength="6.8" lengthAdjust="spacingAndGlyphs" fill="#c8202f" stroke="#c8202f" stroke-width="0.5">Z</text>
<text x="563.6" y="252.6" font-size="19.4" textLength="199.7" lengthAdjust="spacingAndGlyphs" fill="#1a1a1a" stroke="#1a1a1a" stroke-width="0.5">système de miroirs orientables</text>
<text x="563.6" y="275.3" font-size="19.4" textLength="232" lengthAdjust="spacingAndGlyphs" fill="#1a1a1a" stroke="#1a1a1a" stroke-width="0.5">permettant de diriger le rayon laser</text>
<text x="563.6" y="297.5" font-size="19.4" textLength="143.7" lengthAdjust="spacingAndGlyphs" fill="#1a1a1a" stroke="#1a1a1a" stroke-width="0.5">selon les directions XY</text>
<text x="1337.4" y="152.7" font-size="19.4" textLength="30.7" lengthAdjust="spacingAndGlyphs" fill="#1a1a1a" stroke="#1a1a1a" stroke-width="0.5">laser</text>
<text x="1337.4" y="239" font-size="19.4" textLength="71" lengthAdjust="spacingAndGlyphs" fill="#1a1a1a" stroke="#1a1a1a" stroke-width="0.5">rayon laser</text>
<text x="1337.4" y="286.9" font-size="19.4" textLength="51.7" lengthAdjust="spacingAndGlyphs" fill="#1a1a1a" stroke="#1a1a1a" stroke-width="0.5">lentilles</text>
<text x="1381.5" y="536.5" font-size="19.4" textLength="50" lengthAdjust="spacingAndGlyphs" fill="#1a1a1a" stroke="#1a1a1a" stroke-width="0.5">rouleau</text>
<text x="1381.5" y="595.5" font-size="19.4" textLength="94.9" lengthAdjust="spacingAndGlyphs" fill="#1a1a1a" stroke="#1a1a1a" stroke-width="0.5">compartiment</text>
<text x="1381.5" y="618" font-size="19.4" textLength="96" lengthAdjust="spacingAndGlyphs" fill="#1a1a1a" stroke="#1a1a1a" stroke-width="0.5">d’alimentation</text>
<text x="1381.5" y="639.6" font-size="19.4" textLength="66" lengthAdjust="spacingAndGlyphs" fill="#1a1a1a" stroke="#1a1a1a" stroke-width="0.5">en poudre</text>
<text x="1382.9" y="741" font-size="19.4" textLength="40.7" lengthAdjust="spacingAndGlyphs" fill="#1a1a1a" stroke="#1a1a1a" stroke-width="0.5">piston</text>
<text x="1104.4" y="865" font-size="19.4" textLength="39.9" lengthAdjust="spacingAndGlyphs" fill="#1a1a1a" stroke="#1a1a1a" stroke-width="0.5">piston</text>
<text x="620.3" y="575.8" font-size="19.4" textLength="48.7" lengthAdjust="spacingAndGlyphs" fill="#1a1a1a" stroke="#1a1a1a" stroke-width="0.5">plan de</text>
<text x="608.6" y="598.4" font-size="19.4" textLength="60.4" lengthAdjust="spacingAndGlyphs" fill="#1a1a1a" stroke="#1a1a1a" stroke-width="0.5">référence</text>
<text x="574.8" y="656.7" font-size="19.4" textLength="94.2" lengthAdjust="spacingAndGlyphs" fill="#1a1a1a" stroke="#1a1a1a" stroke-width="0.5">compartiment</text>
<text x="578.7" y="679.3" font-size="19.4" textLength="90.3" lengthAdjust="spacingAndGlyphs" fill="#1a1a1a" stroke="#1a1a1a" stroke-width="0.5">de fabrication</text>
<text x="597.7" y="737.3" font-size="19.4" textLength="73.2" lengthAdjust="spacingAndGlyphs" fill="#1a1a1a" stroke="#1a1a1a" stroke-width="0.5">couches 2D</text>
<text x="618.4" y="810.4" font-size="19.4" textLength="48.6" lengthAdjust="spacingAndGlyphs" fill="#1a1a1a" stroke="#1a1a1a" stroke-width="0.5">plateau</text>
<text x="577.5" y="832.6" font-size="19.4" textLength="89.5" lengthAdjust="spacingAndGlyphs" fill="#1a1a1a" stroke="#1a1a1a" stroke-width="0.5">de fabrication</text>
<text x="585.3" y="854.4" font-size="19.4" textLength="81.7" lengthAdjust="spacingAndGlyphs" fill="#1a1a1a" stroke="#1a1a1a" stroke-width="0.5">se déplaçant</text>
<text x="588" y="876.6" font-size="19.4" textLength="80.2" lengthAdjust="spacingAndGlyphs" fill="#1a1a1a" stroke="#1a1a1a" stroke-width="0.5">selon l’axe Z</text>
<text x="927.1" y="552.6" font-size="19.4" textLength="103.3" lengthAdjust="spacingAndGlyphs" fill="#1a1a1a" stroke="#1a1a1a" stroke-width="0.5">couche en cours</text>
<text x="940.6" y="575.2" font-size="19.4" textLength="89.8" lengthAdjust="spacingAndGlyphs" fill="#1a1a1a" stroke="#1a1a1a" stroke-width="0.5">de fabrication</text>
<text x="1259.4" y="620.6" font-size="21.2" textLength="8" lengthAdjust="spacingAndGlyphs" fill="#1a1a1a" font-weight="bold" stroke="#1a1a1a" stroke-width="0.75">a</text>
<text x="1254.4" y="387.7" font-size="20.3" textLength="8.8" lengthAdjust="spacingAndGlyphs" fill="#1a1a1a" font-weight="bold" stroke="#1a1a1a" stroke-width="0.75">b</text>
<text x="889.8" y="554.5" font-size="21.2" textLength="6.7" lengthAdjust="spacingAndGlyphs" fill="#1a1a1a" font-weight="bold" stroke="#1a1a1a" stroke-width="0.75">c</text>
<text x="1070.1" y="788" font-size="20.3" textLength="8.8" lengthAdjust="spacingAndGlyphs" fill="#1a1a1a" font-weight="bold" stroke="#1a1a1a" stroke-width="0.75">d</text>
</g>
<path d="M269,46.7 L271,44.9 L273,46.7 L275,44.9 L277,46.7 L279,44.9 L281,46.7 L283,44.9 L285,46.7 L287,44.9 L289,46.7 L291,44.9 L293,46.7 L295,44.9 L297,46.7 L299,44.9 L301,46.7 L303,44.9 L305,46.7 L307,44.9 L309,46.7 L311,44.9 L313,46.7 L315,44.9 L317,46.7 L319,44.9 L321,46.7 L323,44.9 L325,46.7 L327,44.9 L329,46.7 L331,44.9 L333,46.7 L335,44.9 L337,46.7 L339,44.9 L341,46.7 L343,44.9 L345,46.7 L347,44.9 L349,46.7 L350.5,44.9" fill="none" stroke="#dc2222" stroke-width="1.1" stroke-linejoin="round"/>
<path d="M411,46.7 L413,44.9 L415,46.7 L417,44.9 L419,46.7 L421,44.9 L423,46.7 L425,44.9 L427,46.7 L429,44.9 L431,46.7 L433,44.9 L435,46.7 L437,44.9 L439,46.7 L441,44.9 L443,46.7 L445,44.9 L447,46.7 L449,44.9 L451,46.7 L453,44.9 L455,46.7 L457,44.9 L459,46.7 L461,44.9 L463,46.7 L465,44.9 L467,46.7 L469,44.9 L471,46.7 L473,44.9 L475,46.7 L477,44.9 L479,46.7 L481,44.9 L483,46.7 L485,44.9 L487,46.7 L489,44.9 L489.1,46.7" fill="none" stroke="#dc2222" stroke-width="1.1" stroke-linejoin="round"/>
<path d="M272.7,91 L274.7,89.2 L276.7,91 L278.7,89.2 L280.7,91 L282.7,89.2 L284.7,91 L286.7,89.2 L288.7,91 L290.7,89.2 L292.7,91 L294.7,89.2 L296.7,91 L298.7,89.2 L300.7,91 L302.7,89.2 L304.7,91 L306.7,89.2 L308.7,91 L310.7,89.2 L312.7,91 L314.7,89.2 L316.7,91 L318.7,89.2 L320.7,91 L322.7,89.2 L324.7,91 L326.7,89.2 L328.7,91 L330.7,89.2 L332.7,91 L334.7,89.2 L336.7,91 L336.7,89.2" fill="none" stroke="#dc2222" stroke-width="1.1" stroke-linejoin="round"/>
<path d="M303.3,445.4 L305.3,443.6 L307.3,445.4 L309.3,443.6 L311.3,445.4 L313.3,443.6 L315.3,445.4 L317.3,443.6 L319.3,445.4 L321.3,443.6 L323.3,445.4 L325.3,443.6 L327.3,445.4 L329.3,443.6 L331.3,445.4 L333.3,443.6 L335.3,445.4 L337.3,443.6 L339.3,445.4 L341.3,443.6 L343.3,445.4 L345.3,443.6 L347.3,445.4 L349.3,443.6 L351.3,445.4 L353.3,443.6 L355.3,445.4 L357.3,443.6 L359.3,445.4 L361.3,443.6 L363.3,445.4 L365.3,443.6 L367.3,445.4 L369.3,443.6 L371.3,445.4 L373.3,443.6 L375.3,445.4 L377.3,443.6 L379.3,445.4 L381.3,443.6 L383.3,445.4 L385.3,443.6 L387.3,445.4 L389.3,443.6 L391.3,445.4 L393.3,443.6 L395.3,445.4 L397.3,443.6 L399.3,445.4 L401.3,443.6 L403.3,445.4 L405.3,443.6 L407.3,445.4 L407.7,443.6" fill="none" stroke="#dc2222" stroke-width="1.1" stroke-linejoin="round"/>
</svg>
</body></html>
